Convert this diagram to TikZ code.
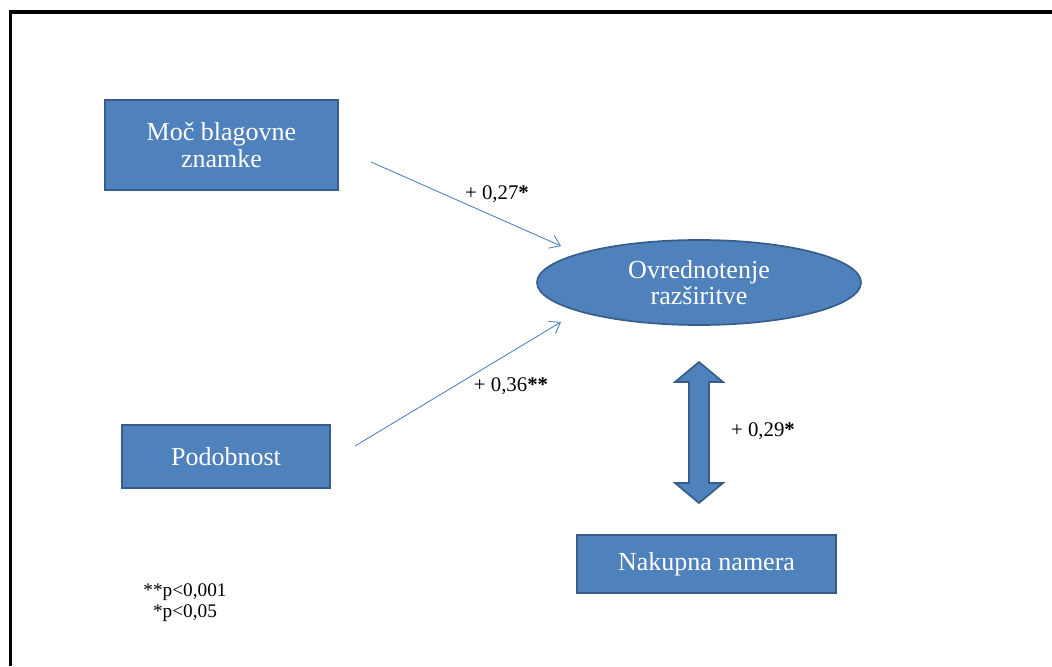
\documentclass[tikz,border=0pt]{standalone}
\usepackage{fontspec}
\setmainfont{Liberation Serif}
\usetikzlibrary{arrows.meta,shapes.geometric}
\definecolor{boxblue}{RGB}{79,129,189}
\definecolor{boxedge}{RGB}{56,93,138}
\definecolor{lineblue}{RGB}{74,126,187}
\begin{document}
\begin{tikzpicture}[x=0.025cm, y=0.025cm, ->, >={Straight Barb[length=7pt,width=10pt]},
    varbox/.style={shape=rectangle, draw=boxedge, line width=1.2pt, fill=boxblue, text=white, align=center, inner sep=0pt, font=\fontsize{18.5}{18.8}\selectfont},
    varoval/.style={varbox, shape=ellipse},
    coef/.style={draw=none, text=black, inner sep=0pt, font=\fontsize{14.8}{17}\selectfont}]
    \useasboundingbox (0,0) rectangle (1052,666);
    \draw[-, line width=2.2pt] (10.5,0) -- (10.5,654) -- (1052,654);

    \node[varbox, minimum width=5.825cm, minimum height=2.25cm] (moc) at (221.5,521) {Moč blagovne\\znamke};
    \node[varbox, minimum width=5.2cm, minimum height=1.575cm] (podobnost) at (226,209.5) {Podobnost};
    \node[varoval, minimum width=8.1cm, minimum height=2.125cm] (ovr) at (699,383.5) {Ovrednotenje\\razširitve};
    \node[varbox, minimum width=6.475cm, minimum height=1.45cm] (nakup) at (706.5,102) {Nakupna namera};

    \coordinate (m1) at (371,504);
    \coordinate (m2) at (561,420);
    \coordinate (p1) at (355,220);
    \coordinate (p2) at (561,344);

    \path[lineblue, line width=0.6pt] (m1) edge (m2) % 0,27
          (p1) edge (p2); % 0,36
    \node[coef] (c1) at (497,472) {+ 0,27\textbf{*}};
    \node[coef] (c2) at (511,280) {+ 0,36\textbf{**}};
    \node[coef] (c3) at (763,235) {+ 0,29\textbf{*}};

    % double arrow between ovr and nakup
    \draw[-, fill=boxblue, draw=boxedge, line width=1.2pt]
        (699,304) -- (723,284) -- (709,284) -- (709,183) -- (723,183) -- (699,163)
        -- (675,183) -- (689,183) -- (689,284) -- (675,284) -- cycle;

    \node[coef, align=center, font=\fontsize{13.7}{15}\selectfont] (pval) at (185,63.5) {**p<0,001\\*p<0,05};
\end{tikzpicture}
\end{document}
